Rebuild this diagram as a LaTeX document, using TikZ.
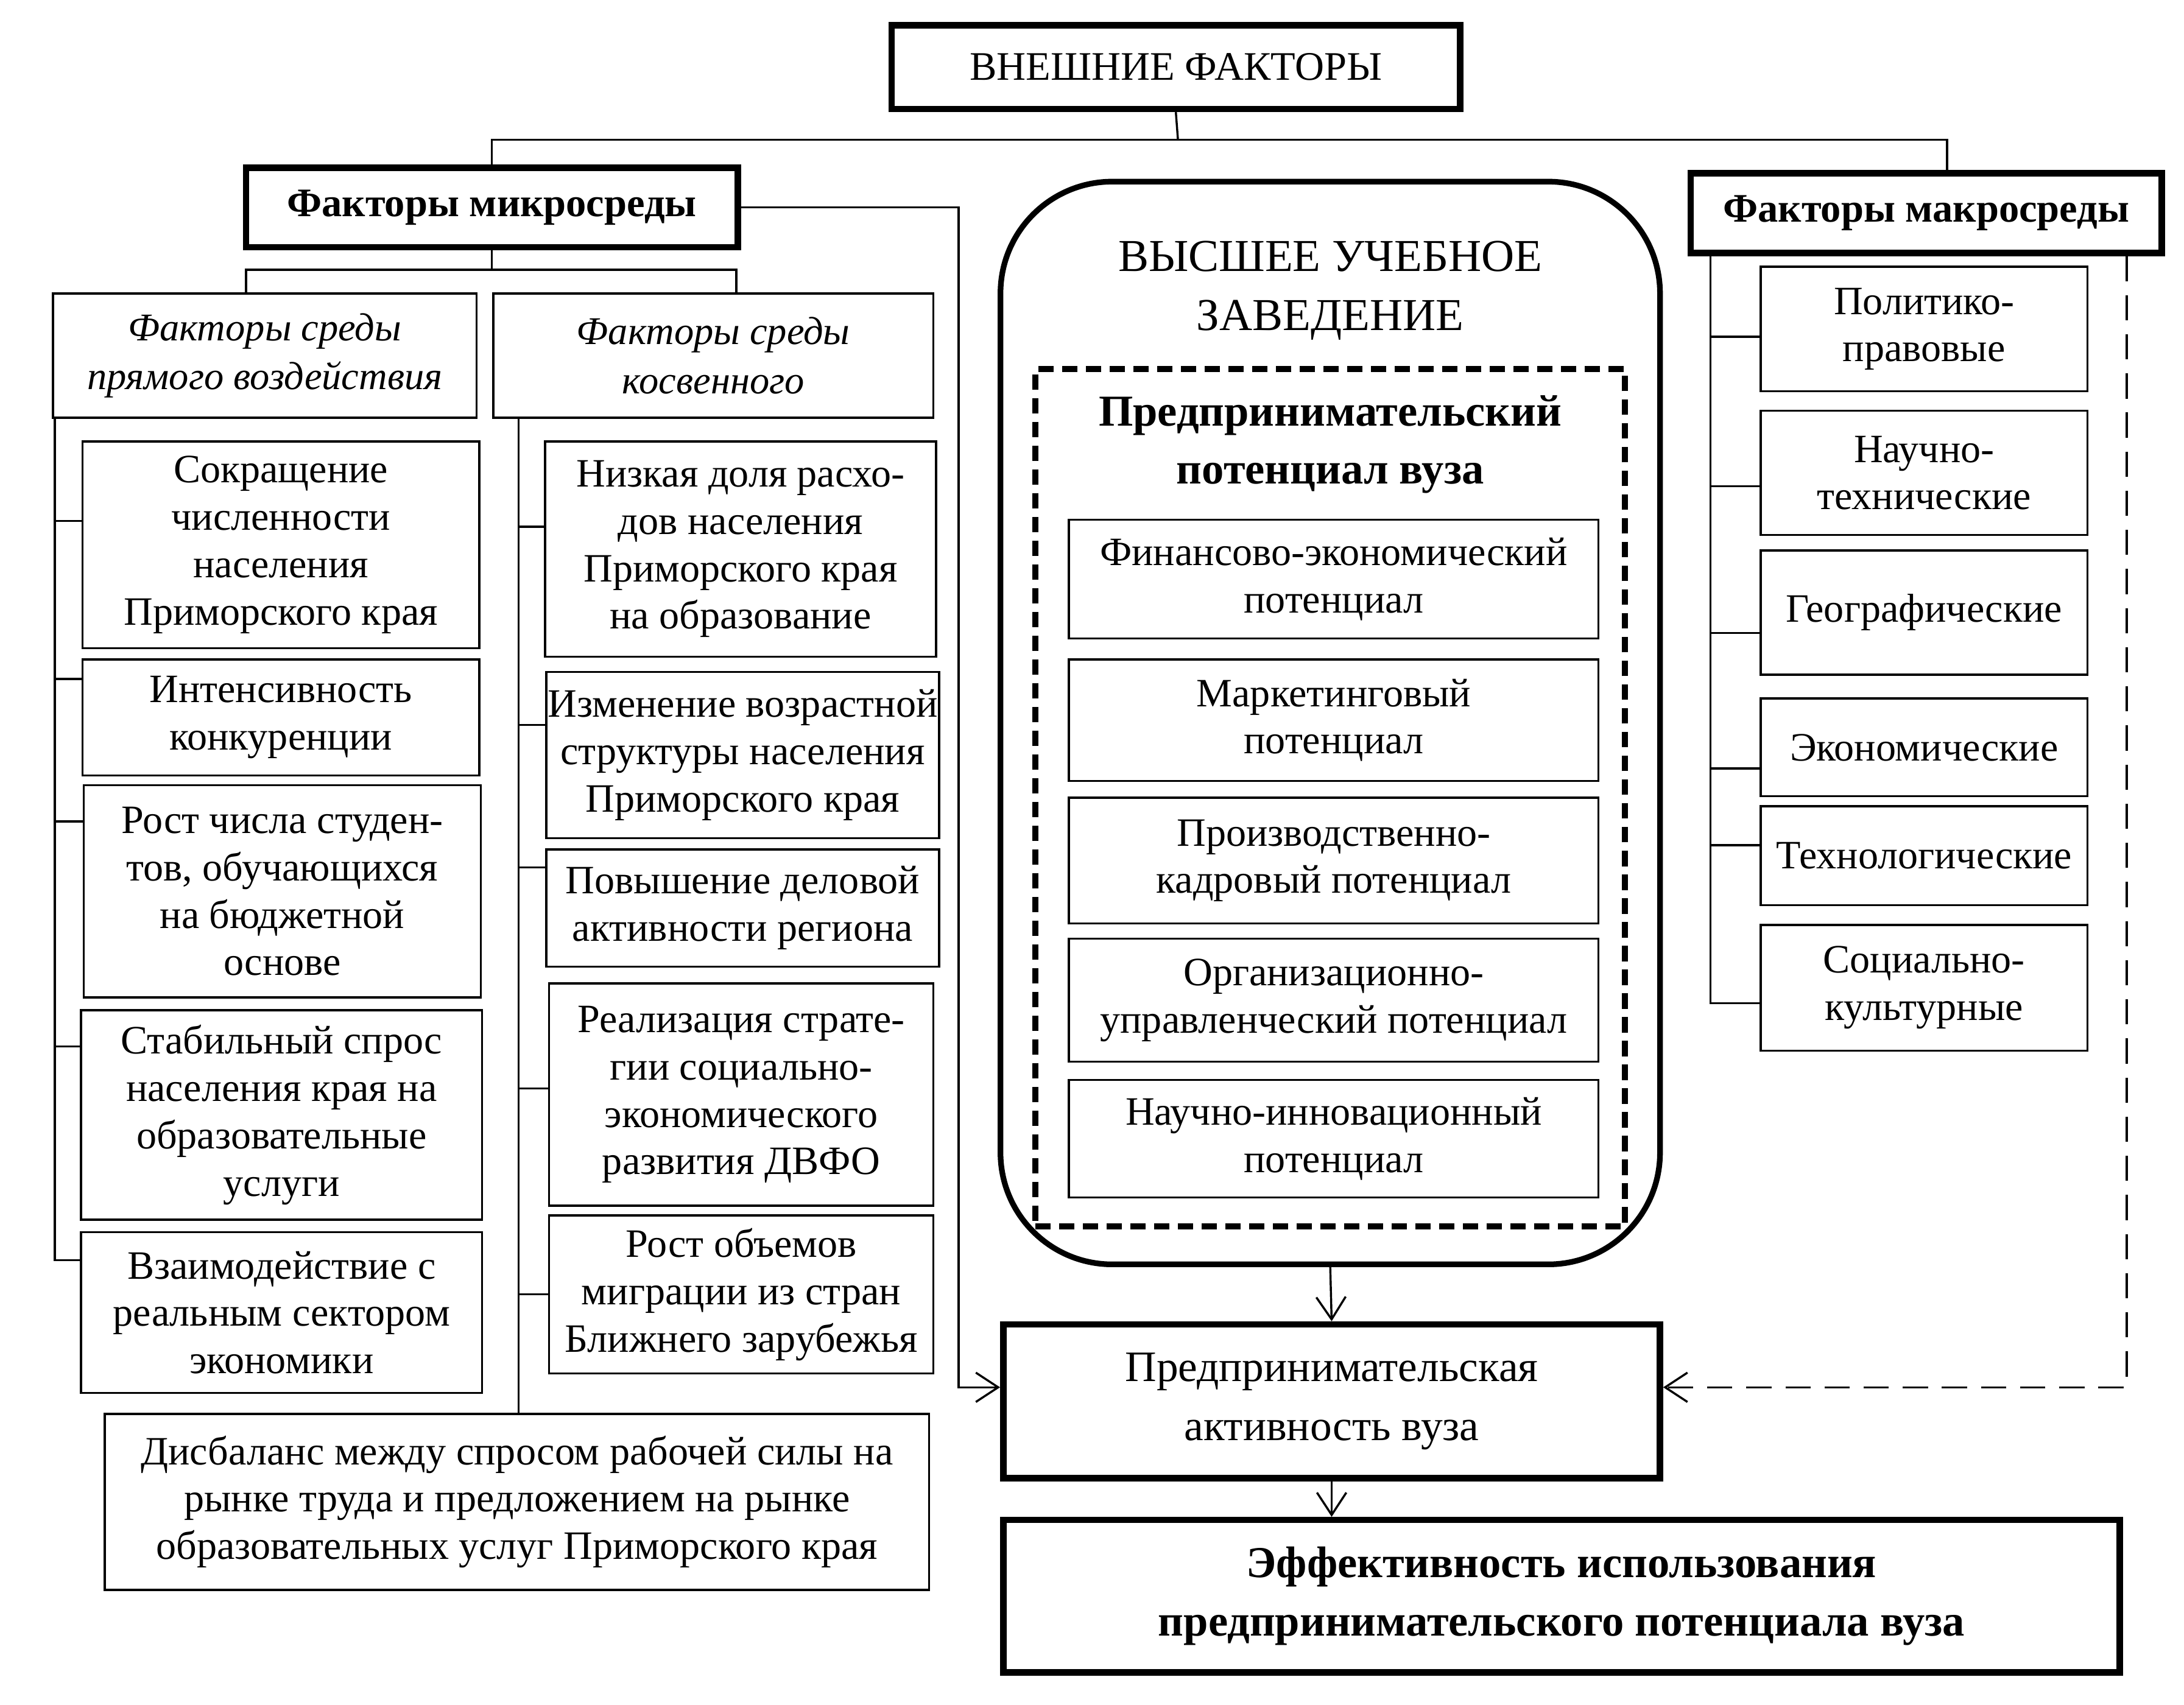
\documentclass[tikz,border=0pt]{standalone}
\usepackage{fontspec}
\setmainfont{Liberation Serif}
\usetikzlibrary{arrows.meta}
\tikzset{
    every node/.style={draw, rectangle, align=center, inner sep=0pt,
    	line width=0.85pt, font=\fontsize{16.4}{19.3}\selectfont}
}
\tikzset{
    heavy/.style={line width=2.6pt},
    caption/.style={draw=none, font=\fontsize{18.6}{24}\selectfont},
    strong/.style={font=\bfseries\fontsize{16.5}{24}\selectfont},
    side/.style={font=\itshape\fontsize{16}{20}\selectfont},
    arrow/.style={-{Straight Barb[length=0.32cm,width=0.42cm]}}
}

\begin{document}
\begin{tikzpicture}[line width=0.85pt]
	\useasboundingbox (0,0) rectangle (31.26,-24.4);
	\node (top) [heavy, minimum width=8.14cm, minimum height=1.2cm,
		font=\fontsize{16.5}{20}\selectfont] at (16.83cm, -0.96cm) {ВНЕШНИЕ ФАКТОРЫ};
	\node (micro) [heavy, strong, minimum width=7.04cm, minimum height=1.14cm] at (7.04cm, -2.97cm) {Факторы микросреды};
	\node (macro) [heavy, strong, minimum width=6.74cm, minimum height=1.14cm] at (27.57cm, -3.05cm) {Факторы макросреды};
	
	\node (direct) [side, minimum width=6.06cm, minimum height=1.78cm] at (3.79cm, -5.09cm) {Факторы среды\\прямого воздействия};
	\node (indirect) [side, minimum width=6.30cm, minimum height=1.78cm] at (10.21cm, -5.09cm) {Факторы среды\\косвенного};
	
	\node (l1) [minimum width=5.68cm, minimum height=2.96cm] at (4.02cm, -7.8cm) {Сокращение\\численности\\населения\\Приморского края};
	\node (l2) [minimum width=5.68cm, minimum height=1.66cm] at (4.02cm, -10.27cm) {Интенсивность\\конкуренции};
	\node (l3) [minimum width=5.68cm, minimum height=3.04cm] at (4.04cm, -12.76cm) {Рост числа студен-\\тов, обучающихся\\на бюджетной\\основе};
	\node (l4) [minimum width=5.74cm, minimum height=3.0cm] at (4.03cm, -15.96cm) {Стабильный спрос\\населения края на\\образовательные\\услуги};
	\node (l5) [minimum width=5.74cm, minimum height=2.3cm] at (4.03cm, -18.79cm) {Взаимодействие с\\реальным сектором\\экономики};
	
	\node (m1) [minimum width=5.6cm, minimum height=3.08cm] at (10.6cm, -7.86cm) {Низкая доля расхо-\\дов населения\\Приморского края\\на образование};
	\node (m2) [minimum width=5.62cm, minimum height=2.38cm] at (10.63cm, -10.81cm) {Изменение возрастной\\структуры населения\\Приморского края};
	\node (m3) [minimum width=5.62cm, minimum height=1.68cm] at (10.63cm, -13.0cm) {Повышение деловой\\активности региона};
	\node (m4) [minimum width=5.5cm, minimum height=3.18cm] at (10.61cm, -15.67cm) {Реализация страте-\\гии социально-\\экономического\\развития ДВФО};
	\node (m5) [minimum width=5.5cm, minimum height=2.26cm] at (10.61cm, -18.53cm) {Рост объемов\\миграции из стран\\Ближнего зарубежья};
	
	\node (imbalance) [minimum width=11.8cm, minimum height=2.52cm] at (7.4cm, -21.5cm) {Дисбаланс между спросом рабочей силы на\\рынке труда и предложением на рынке\\образовательных услуг Приморского края};
	
	\node (uni) [line width=2.3pt, rounded corners=1.6cm, minimum width=9.44cm, minimum height=15.5cm] at (19.04cm, -10.35cm) {};
	\node (unititle) [caption] at (19.04cm, -4.16cm) {ВЫСШЕЕ УЧЕБНОЕ\\ЗАВЕДЕНИЕ};
	\node (potential) [line width=2.5pt, dash pattern=on 0.22cm off 0.12cm, minimum width=8.44cm, minimum height=12.28cm] at (19.04cm, -11.42cm) {};
	\node (pottitle) [draw=none, font=\bfseries\fontsize{18}{23.5}\selectfont] at (19.04cm, -6.36cm) {Предпринимательский\\потенциал вуза};
	
	\node (p1) [minimum width=7.58cm, minimum height=1.7cm] at (19.09cm, -8.29cm) {Финансово-экономический\\потенциал};
	\node (p2) [minimum width=7.58cm, minimum height=1.74cm] at (19.09cm, -10.31cm) {Маркетинговый\\потенциал};
	\node (p3) [minimum width=7.58cm, minimum height=1.8cm] at (19.09cm, -12.32cm) {Производственно-\\кадровый потенциал};
	\node (p4) [minimum width=7.58cm, minimum height=1.76cm] at (19.09cm, -14.32cm) {Организационно-\\управленческий потенциал};
	\node (p5) [minimum width=7.58cm, minimum height=1.68cm] at (19.09cm, -16.3cm) {Научно-инновационный\\потенциал};
	
	\node (activity) [heavy, minimum width=9.4cm, minimum height=2.2cm,
		font=\fontsize{17.7}{24}\selectfont] at (19.06cm, -20.06cm) {Предпринимательская\\активность вуза};
	\node (efficiency) [heavy, minimum width=15.98cm, minimum height=2.18cm,
		font=\bfseries\fontsize{18}{24}\selectfont] at (22.35cm, -22.85cm) {Эффективность использования\\предпринимательского потенциала вуза};
	
	\node (r1) [minimum width=4.68cm, minimum height=1.78cm] at (27.54cm, -4.71cm) {Политико-\\правовые};
	\node (r2) [minimum width=4.68cm, minimum height=1.78cm] at (27.54cm, -6.77cm) {Научно-\\технические};
	\node (r3) [minimum width=4.68cm, minimum height=1.78cm] at (27.54cm, -8.77cm) {Географические};
	\node (r4) [minimum width=4.68cm, minimum height=1.4cm] at (27.54cm, -10.7cm) {Экономические};
	\node (r5) [minimum width=4.68cm, minimum height=1.42cm] at (27.54cm, -12.25cm) {Технологические};
	\node (r6) [minimum width=4.68cm, minimum height=1.8cm] at (27.54cm, -14.14cm) {Социально-\\культурные};
	
	\coordinate (bus) at (16.86cm, -2.0cm);
	\coordinate (mbus) at (7.04cm, -3.86cm);
	\coordinate (mturn) at (13.72cm, -2.97cm);
	\coordinate (ltrunk) at ([xshift=0.04cm]direct.south west);
	\coordinate (mtrunk) at ([xshift=0.38cm]indirect.south west);
	\coordinate (rtrunk) at ([xshift=-3.09cm]macro.south);
	\coordinate (rdash) at ([xshift=2.87cm]macro.south);
	
	\draw (top.south) -- (bus);
	\draw (micro.north) |- (bus); \draw ([xshift=0.3cm]macro.north) |- (bus);
	\draw (micro.south) -- (mbus);
	\draw ([xshift=-0.27cm]direct.north) |- (mbus);
	\draw ([xshift=0.33cm]indirect.north) |- (mbus);
	
	\draw (ltrunk) |- ([yshift=0.34cm]l1.west); \draw (ltrunk) |- ([yshift=0.55cm]l2.west);
	\draw (ltrunk) |- ([yshift=1.0cm]l3.west); \draw (ltrunk) |- ([yshift=0.98cm]l4.west);
	\draw (ltrunk) |- ([yshift=0.75cm]l5.west);
	
	\draw (mtrunk) |- ([yshift=0.32cm]m1.west); \draw (mtrunk) |- ([yshift=0.43cm]m2.west);
	\draw (mtrunk) |- ([yshift=0.58cm]m3.west); \draw (mtrunk) |- ([yshift=0.09cm]m4.west);
	\draw (mtrunk) |- (m5.west); \draw (mtrunk) -- (mtrunk |- imbalance.north);
	
	\draw (rtrunk) |- ([yshift=-0.11cm]r1.west); \draw (rtrunk) |- ([yshift=-0.19cm]r2.west);
	\draw (rtrunk) |- ([yshift=-0.29cm]r3.west); \draw (rtrunk) |- ([yshift=-0.3cm]r4.west);
	\draw (rtrunk) |- ([yshift=0.15cm]r5.west); \draw (rtrunk) |- ([yshift=-0.22cm]r6.west);
	
	\draw [arrow] (micro.east) -- (mturn) |- ([yshift=0.2cm]activity.west);
	\draw [arrow, dash pattern=on 0.36cm off 0.2cm] (rdash) |- ([yshift=0.2cm]activity.east);
	\draw [arrow] (uni.south) -- (activity.north);
	\draw [arrow] (activity.south) -- (activity.south |- efficiency.north);
\end{tikzpicture}
\end{document}
